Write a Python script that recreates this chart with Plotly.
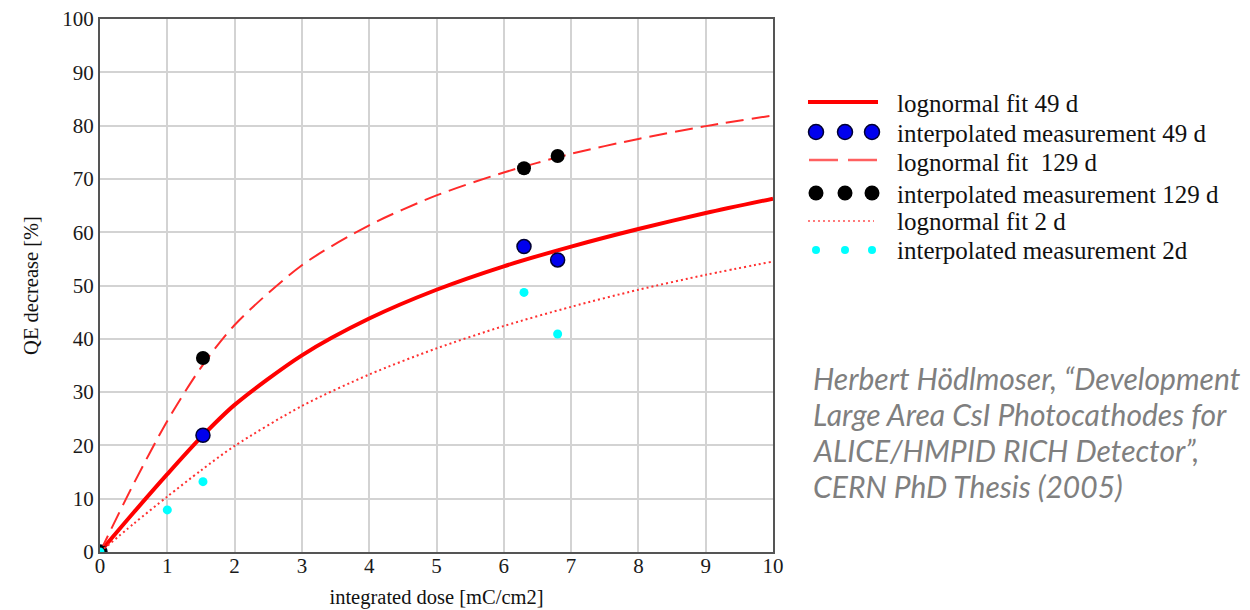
import plotly.graph_objects as go

# ---- data ----
x_fit = [0, 0.5, 1, 1.5, 2, 3, 4, 5, 6, 7, 8, 9, 10]
fit_49d = [0, 7.4, 14.6, 21.5, 27.6, 36.9, 43.8, 49.2, 53.6, 57.3, 60.6, 63.6, 66.3]
fit_129d = [0, 12.8, 24.6, 34.6, 42.6, 53.8, 61.3, 66.9, 71.2, 74.7, 77.5, 79.9, 81.9]
fit_2d = [0, 5.3, 10.4, 15.3, 19.9, 27.4, 33.3, 38.2, 42.4, 46.0, 49.2, 52.0, 54.5]

x_meas_49d = [0, 1.53, 6.3, 6.8]
y_meas_49d = [0, 21.9, 57.3, 54.8]
x_meas_129d = [0, 1.53, 6.3, 6.8]
y_meas_129d = [0, 36.4, 72.0, 74.3]
x_meas_2d = [0, 1.0, 1.53, 6.3, 6.8]
y_meas_2d = [0, 7.9, 13.2, 48.7, 40.9]

x_ticks = list(range(0, 11))
y_ticks = list(range(0, 101, 10))

legend_labels = [
    "lognormal fit 49 d",
    "interpolated measurement 49 d",
    "lognormal fit  129 d",
    "interpolated measurement 129 d",
    "lognormal fit 2 d",
    "interpolated measurement 2d",
]

# citation as visible in the reference (it runs off the right edge there)
citation_lines = [
    "Herbert Hödlmoser, “Development",
    "Large Area CsI Photocathodes for",
    "ALICE/HMPID RICH Detector”,",
    "CERN PhD Thesis (2005)",
]

SERIF = "Liberation Serif"

# ---- styles ----
C_FIT49 = "#ff0000"
C_FIT129 = "#ff2a2a"
C_FIT2 = "#ff3030"
C_M49 = "#0000ee"
C_M129 = "#000000"
C_M2 = "#00ffff"

# plot-area geometry (pixels) used to place the hand-made legend
L, T, W, H = 100, 19, 673, 533


def px(xp):
    return (xp - L) / W


def py(yp):
    return (T + H - yp) / H


fig = go.Figure()
fig.add_trace(go.Scatter(x=x_fit, y=fit_49d, mode="lines", name=legend_labels[0],
                         line=dict(color=C_FIT49, width=4, shape="spline", smoothing=0.8)))
fig.add_trace(go.Scatter(x=x_meas_49d, y=y_meas_49d, mode="markers", name=legend_labels[1],
                         marker=dict(color=C_M49, size=14, line=dict(color="#000033", width=1.5))))
fig.add_trace(go.Scatter(x=x_fit, y=fit_129d, mode="lines", name=legend_labels[2],
                         line=dict(color=C_FIT129, width=2, dash="18px,8px", shape="spline", smoothing=0.8)))
fig.add_trace(go.Scatter(x=x_meas_129d, y=y_meas_129d, mode="markers", name=legend_labels[3],
                         marker=dict(color=C_M129, size=14)))
fig.add_trace(go.Scatter(x=x_fit, y=fit_2d, mode="lines", name=legend_labels[4],
                         line=dict(color=C_FIT2, width=2, dash="2px,3px", shape="spline", smoothing=0.8)))
fig.add_trace(go.Scatter(x=x_meas_2d, y=y_meas_2d, mode="markers", name=legend_labels[5],
                         marker=dict(color=C_M2, size=9)))

# ---- hand-made legend (keys with three dots, like the original) ----
row_y = [102, 132, 160, 193, 221, 250]
text_y = [104, 133, 162, 194, 222, 251]
shapes = []
shapes.append(dict(type="line", xref="paper", yref="paper", x0=px(808), x1=px(878),
                   y0=py(row_y[0]), y1=py(row_y[0]), line=dict(color=C_FIT49, width=4)))
for a, b in [(809, 838), (848, 877)]:
    shapes.append(dict(type="line", xref="paper", yref="paper", x0=px(a), x1=px(b),
                       y0=py(row_y[2]), y1=py(row_y[2]), line=dict(color="#ff6060", width=2.5)))
shapes.append(dict(type="line", xref="paper", yref="paper", x0=px(808), x1=px(874),
                   y0=py(row_y[4]), y1=py(row_y[4]), line=dict(color="#ff5050", width=1.5, dash="2px,3px")))


def dots(row, color, d, outline=None):
    for cx in (816, 845, 872):
        shapes.append(dict(type="circle", xref="paper", yref="paper",
                           x0=px(cx - d / 2), x1=px(cx + d / 2),
                           y0=py(row_y[row] + d / 2), y1=py(row_y[row] - d / 2),
                           fillcolor=color,
                           line=dict(color=outline or color, width=1.5 if outline else 0)))


dots(1, C_M49, 15, "#000033")
dots(3, C_M129, 15)
dots(5, C_M2, 8)

for lbl, ty in zip(legend_labels, text_y):
    fig.add_annotation(text=lbl, xref="paper", yref="paper", x=px(895), y=py(ty),
                       xanchor="left", yanchor="middle", showarrow=False,
                       font=dict(family=SERIF, size=25, color="#111111"))

for i, line in enumerate(citation_lines):
    fig.add_annotation(text=f"<i>{line}</i>", xref="paper", yref="paper",
                       x=px(811), y=py(378 + 36 * i),
                       xanchor="left", yanchor="middle", showarrow=False,
                       font=dict(family="Lato", size=30, color="#7f7f7f"))

fig.update_layout(
    width=1250, height=610,
    margin=dict(l=L, r=1250 - L - W, t=T, b=610 - T - H),
    paper_bgcolor="white", plot_bgcolor="white",
    showlegend=False,
    shapes=shapes,
    xaxis=dict(range=[0, 10], tickvals=x_ticks, showgrid=True, gridcolor="#d3d3d3", gridwidth=1.5,
               showline=True, linecolor="#555555", linewidth=2, mirror=True, zeroline=False,
               automargin=False,
               ticks="", tickfont=dict(family=SERIF, size=21, color="#1a1a1a"),
               ticklabelstandoff=-6,
               title=dict(text="integrated dose [mC/cm2]", font=dict(family=SERIF, size=20.5, color="#111111"),
                          standoff=12)),
    yaxis=dict(range=[0, 100], tickvals=y_ticks, showgrid=True, gridcolor="#d3d3d3", gridwidth=1.5,
               showline=True, linecolor="#555555", linewidth=2, mirror=True, zeroline=False,
               automargin=False,
               ticks="", tickfont=dict(family=SERIF, size=21, color="#1a1a1a"),
               ticklabelstandoff=0,
               title=dict(text="QE decrease [%]", font=dict(family=SERIF, size=20.5, color="#111111"),
                          standoff=18)),
)

fig.write_html("out.html")
